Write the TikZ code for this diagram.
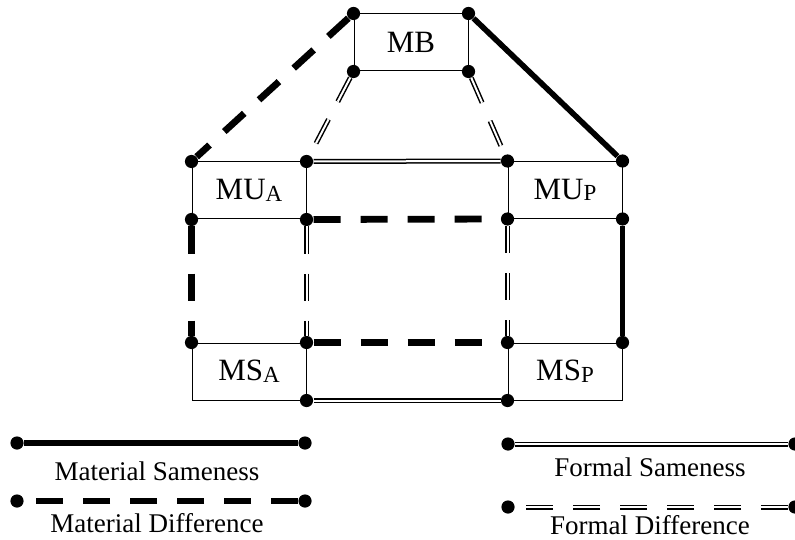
\documentclass[tikz,border=0pt]{standalone}
\usepackage{fontspec}
\setmainfont{Liberation Serif}
\newcommand{\boxsub}[1]{\raisebox{-0.8pt}{\fontsize{11.5}{11.5}\selectfont #1}}
\tikzset{
  box/.style={shape=rectangle,draw=black,line width=0.5pt,minimum width=57pt,minimum height=28.5pt,inner sep=0pt,font=\fontsize{15.5}{15.5}\selectfont},
  dot/.style={shape=circle,fill=black,inner sep=0pt,minimum size=6.6pt},
  msame/.style={line width=2.8pt},
  mdiff/.style={line width=3.4pt,dash pattern=on 13.5pt off 10pt},
  fsame/.style={double=white,double distance=1pt,line width=0.75pt},
  fdiff/.style={fsame,dash pattern=on 13.5pt off 10pt},
  lbl/.style={font=\fontsize{13.5}{13.5}\selectfont}
}
\begin{document}
\begin{tikzpicture}[x=0.5pt,y=-0.5pt]
\useasboundingbox (0,0) rectangle (795,539);
\node[box] (mb) at (411,42.5) {MB};
\node[box] (mua) at (249,190.5) {MU\boxsub{A}};
\node[box] (mup) at (565,190) {MU\boxsub{P}};
\node[box] (msa) at (249,371.5) {MS\boxsub{A}};
\node[box] (msp) at (565,371.5) {MS\boxsub{P}};
\node[dot] (mb-nw) at (mb.north west) {};
\node[dot] (mb-ne) at (mb.north east) {};
\node[dot] (mb-sw) at (mb.south west) {};
\node[dot] (mb-se) at (mb.south east) {};
\node[dot] (mua-nw) at (mua.north west) {};
\node[dot] (mua-ne) at (mua.north east) {};
\node[dot] (mua-sw) at (mua.south west) {};
\node[dot] (mua-se) at (mua.south east) {};
\node[dot] (mup-nw) at (mup.north west) {};
\node[dot] (mup-ne) at (mup.north east) {};
\node[dot] (mup-sw) at (mup.south west) {};
\node[dot] (mup-se) at (mup.south east) {};
\node[dot] (msa-nw) at (msa.north west) {};
\node[dot] (msa-ne) at (msa.north east) {};
\node[dot] (msa-se) at (msa.south east) {};
\node[dot] (msp-nw) at (msp.north west) {};
\node[dot] (msp-ne) at (msp.north east) {};
\node[dot] (msp-sw) at (msp.south west) {};
\draw[mdiff] (mb-nw) -- (mua-nw);
\draw[msame] (mb-ne) -- (mup-ne);
\draw[fdiff] (mb-sw) -- (mua-ne);
\draw[fdiff] (mb-se) -- (mup-nw);
\draw[fsame] (mua-ne) -- (mup-nw);
\draw[mdiff] (mua-se) -- (mup-sw);
\draw[mdiff] (mua-sw) -- (msa-nw);
\draw[fdiff] (mua-se) -- (msa-ne);
\draw[fdiff] (mup-sw) -- (msp-nw);
\draw[msame] (mup-se) -- (msp-ne);
\draw[mdiff] (msa-ne) -- (msp-nw);
\draw[fsame] (msa-se) -- (msp-sw);
\node[dot] (ms-a) at (17,443) {};
\node[dot] (ms-b) at (305,443) {};
\draw[msame] (ms-a) -- (ms-b);
\node[lbl] (ms-t) at (157,471) {Material Sameness};
\node[dot] (md-a) at (17,501) {};
\node[dot] (md-b) at (305,501) {};
\draw[mdiff] (md-b) -- (md-a);
\node[lbl] (md-t) at (157,523) {Material Difference};
\node[dot] (fs-a) at (508,444) {};
\node[dot] (fs-b) at (795,444) {};
\draw[fsame] (fs-a) -- (fs-b);
\node[lbl] (fs-t) at (650,467) {Formal Sameness};
\node[dot] (fd-a) at (508,507) {};
\node[dot] (fd-b) at (795,507) {};
\draw[fdiff] (fd-b) -- (fd-a);
\node[lbl] (fd-t) at (650,525) {Formal Difference};
\end{tikzpicture}
\end{document}
